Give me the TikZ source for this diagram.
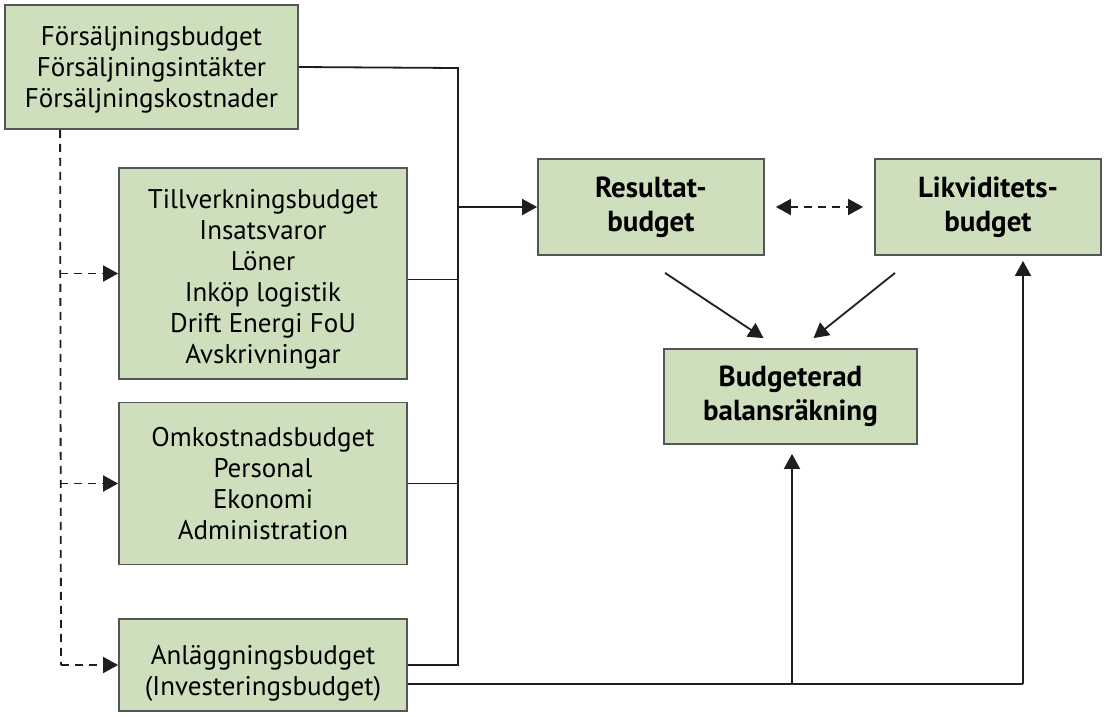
\documentclass[tikz,border=0pt]{standalone}
\usepackage{fontspec}
\setmainfont{PT Sans}
\usetikzlibrary{arrows.meta,calc}
\definecolor{boxfill}{RGB}{206,223,190}
\definecolor{boxdraw}{RGB}{85,85,85}
\definecolor{linecol}{RGB}{30,30,30}
\begin{document}
\begin{tikzpicture}[x=1pt,y=-1pt,
  box/.style={draw=boxdraw,fill=boxfill,line width=1.8pt,align=center,inner sep=0pt,
    font=\fontsize{27}{31}\selectfont},
  bbox/.style={box,font=\fontsize{29}{34}\selectfont\bfseries},
  conn/.style={draw=linecol,line width=1.8pt},
  tip/.style={-{Triangle[length=15pt,width=16pt]}},
  dline/.style={conn,dash pattern=on 8pt off 6pt}]
\useasboundingbox (0,0) rectangle (1107,716);
\fill[white] (0,0) rectangle (1107,716);
% boxes
\node[box,minimum width=293pt,minimum height=124pt] (F) at (151.5,67)
  {\rule{0pt}{25pt}Försäljningsbudget\\Försäljningsintäkter\\Försäljningskostnader};
\node[box,minimum width=288pt,minimum height=211pt] (T) at (263,273.5)
  {\rule{0pt}{31pt}Tillverkningsbudget\\Insatsvaror\\Löner\\Inköp logistik\\Drift Energi FoU\\Avskrivningar};
\node[box,minimum width=288pt,minimum height=162pt] (O) at (263,483.5)
  {Omkostnadsbudget\\Personal\\Ekonomi\\Administration};
\node[box,minimum width=288pt,minimum height=92pt] (A) at (263,665)
  {\rule{0pt}{35pt}Anläggningsbudget\\(Investeringsbudget)};
\node[bbox,minimum width=226pt,minimum height=96pt] (R) at (651,207)
  {Resultat-\\budget};
\node[bbox,minimum width=226pt,minimum height=96pt] (L) at (988,207)
  {Likviditets-\\budget};
\node[bbox,minimum width=253pt,minimum height=95pt] (B) at (790.5,396.5)
  {Budgeterad\\balansräkning};
% collector line
\coordinate (j1) at (458,68);
\coordinate (j4) at (458,665);
\draw[conn] (F.east) -- (j1) -- (j4) -- (A.east);
\draw[conn] ([yshift=-6pt]T.east) -- ([yshift=-6pt]T.east -| j1);
\draw[conn] (O.east) -- (O.east -| j1);
\draw[conn,tip] (j1 |- R.west) -- (R.west);
% dashed feed line
\coordinate (d0) at ([xshift=56pt]F.south west);
\coordinate (d1) at (61,665);
\draw[dline] (d0) -- (d1);
\draw[dline,tip] (d0 |- T.west) -- (T.west);
\draw[dline,tip] (d0 |- O.west) -- (O.west);
\draw[dline,tip] (d1) -- (A.west);
% between result and liquidity
\draw[dline,{Triangle[length=15pt,width=16pt]}-{Triangle[length=15pt,width=16pt]},shorten <=11pt,shorten >=11pt] (R.east) -- (L.west);
% diagonals
\draw[conn,tip] ([xshift=14pt,yshift=-17pt]R.south) -- ([xshift=-27pt,yshift=10pt]B.north);
\draw[conn,tip] ([xshift=-93pt,yshift=-17pt]L.south) -- ([xshift=23pt,yshift=10pt]B.north);
% bottom line
\coordinate (b1) at (792,684);
\coordinate (b2) at (1023,684);
\draw[conn] ([yshift=-19pt]A.east) -- (b1) -- (b2);
\draw[conn,tip] (b1) -- ([yshift=-9pt]B.south -| b1);
\draw[conn,tip] (b2) -- ([yshift=-5pt]L.south -| b2);
\end{tikzpicture}
\end{document}
